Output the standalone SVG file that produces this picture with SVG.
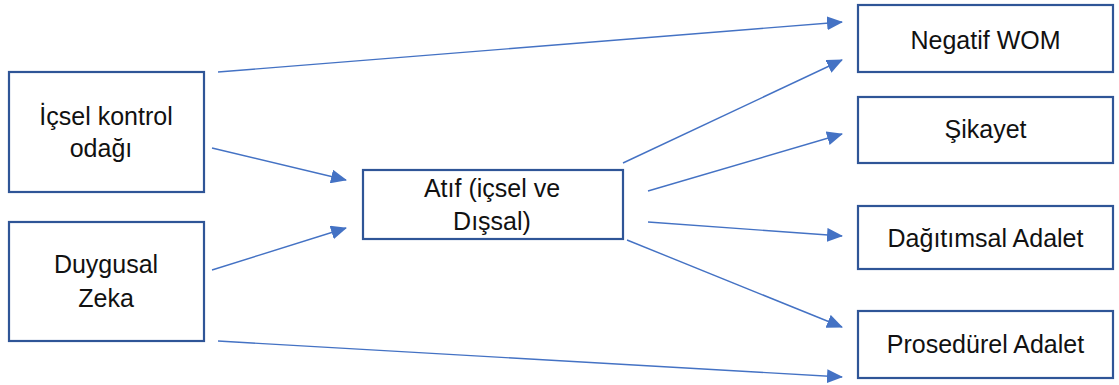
<svg xmlns="http://www.w3.org/2000/svg" width="1119" height="385" viewBox="0 0 1119 385">
<style>
.box{fill:#fff;stroke:#2F5597;stroke-width:2.2}
.lbl{font-family:"Liberation Sans",Arial,sans-serif;font-size:25px;fill:#111;text-anchor:middle}
.edge{stroke:#4472C4;stroke-width:1.4;fill:none;marker-end:url(#ah)}
</style>
<defs>
<marker id="ah" markerUnits="userSpaceOnUse" markerWidth="16" markerHeight="14" refX="15" refY="7" orient="auto" viewBox="0 0 16 14">
<path d="M0,0 L16,7 L0,14 Z" fill="#4472C4"/>
</marker>
</defs>
<rect width="1119" height="385" fill="#fff"/>
<g id="connectors">
<line class="edge" x1="218" y1="72" x2="842" y2="22"/>
<line class="edge" x1="212" y1="148" x2="346" y2="180"/>
<line class="edge" x1="212" y1="270" x2="346" y2="228"/>
<line class="edge" x1="623" y1="163" x2="842" y2="60"/>
<line class="edge" x1="648" y1="191" x2="842" y2="134"/>
<line class="edge" x1="648" y1="222" x2="842" y2="236"/>
<line class="edge" x1="627" y1="240" x2="842" y2="327"/>
<line class="edge" x1="218" y1="341" x2="842" y2="377"/>
</g>
<g id="node-icsel">
<rect class="box" x="9" y="72" width="195" height="120"/>
<text class="lbl" x="106" y="125">İçsel kontrol</text>
<text class="lbl" x="101" y="157">odağı</text>
</g>
<g id="node-duygusal">
<rect class="box" x="9" y="222" width="195" height="119"/>
<text class="lbl" x="106" y="273">Duygusal</text>
<text class="lbl" x="106" y="307">Zeka</text>
</g>
<g id="node-atif">
<rect class="box" x="363" y="170" width="260" height="69"/>
<text class="lbl" x="492" y="197">Atıf (içsel ve</text>
<text class="lbl" x="492" y="230">Dışsal)</text>
</g>
<g id="node-negatif">
<rect class="box" x="858" y="5" width="255" height="67"/>
<text class="lbl" x="985.5" y="49">Negatif WOM</text>
</g>
<g id="node-sikayet">
<rect class="box" x="858" y="97" width="255" height="66"/>
<text class="lbl" x="985.5" y="138">Şikayet</text>
</g>
<g id="node-dagitimsal">
<rect class="box" x="858" y="206" width="255" height="63"/>
<text class="lbl" x="985.5" y="247">Dağıtımsal Adalet</text>
</g>
<g id="node-prosedurel">
<rect class="box" x="858" y="311" width="255" height="67"/>
<text class="lbl" x="985.5" y="353">Prosedürel Adalet</text>
</g>
</svg>
